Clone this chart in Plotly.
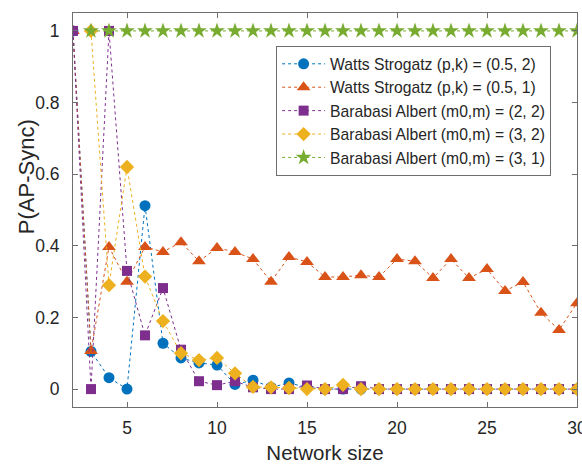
import plotly.graph_objects as go

# Network sizes
x_ws = list(range(2, 31))
x_ba22 = list(range(2, 31))
x_ba3 = list(range(3, 31))

ws_05_2 = [1.0, 0.105, 0.032, 0.0, 0.512, 0.128, 0.087, 0.073, 0.067, 0.013, 0.025,
           0.005, 0.017, 0.005, 0, 0, 0, 0, 0, 0, 0, 0, 0, 0, 0, 0, 0, 0, 0]
ws_05_1 = [1.0, 0.106, 0.397, 0.30, 0.397, 0.383, 0.41, 0.357, 0.394, 0.383, 0.363,
           0.30, 0.369, 0.355, 0.313, 0.313, 0.318, 0.313, 0.363, 0.357, 0.31, 0.363,
           0.31, 0.335, 0.274, 0.299, 0.213, 0.165, 0.24]
ba_2_2 = [1.0, 0.0, 1.0, 0.33, 0.15, 0.282, 0.11, 0.022, 0.011, 0.022, 0.005,
          0.0, 0.0, 0.01, 0, 0, 0.008, 0, 0, 0, 0, 0, 0, 0, 0, 0, 0, 0, 0]
ba_3_2 = [1.0, 0.29, 0.62, 0.314, 0.19, 0.10, 0.081, 0.087, 0.044, 0.006,
          0.005, 0.003, 0.0, 0, 0.012, 0, 0, 0, 0, 0, 0, 0, 0, 0, 0, 0, 0, 0]
ba_3_1 = [1.0] * 28

x_ticks = [5, 10, 15, 20, 25, 30]
y_ticks = [0, 0.2, 0.4, 0.6, 0.8, 1]
y_ticklabels = ["0", "0.2", "0.4", "0.6", "0.8", "1"]

names = ["Watts Strogatz (p,k) = (0.5, 2)",
         "Watts Strogatz (p,k) = (0.5, 1)",
         "Barabasi Albert (m0,m) = (2, 2)",
         "Barabasi Albert (m0,m) = (3, 2)",
         "Barabasi Albert (m0,m) = (3, 1)"]
colors = ["#0072BD", "#D95319", "#7E2F8E", "#EDB120", "#77AC30"]
symbols = ["circle", "triangle-up", "square", "diamond", "star"]
sizes = [11, 12, 10, 11, 12]
xs = [x_ws, x_ws, x_ba22, x_ba3, x_ba3]
ys = [ws_05_2, ws_05_1, ba_2_2, ba_3_2, ba_3_1]

font = "Liberation Sans, Arial, Helvetica, sans-serif"
fig = go.Figure()
for xv, yv, n, c, s, sz in zip(xs, ys, names, colors, symbols, sizes):
    fig.add_trace(go.Scatter(
        x=xv, y=yv, name=n, mode="lines+markers",
        line=dict(color=c, width=1, dash="dot"),
        marker=dict(color=c, symbol=s, size=sz, line=dict(width=0)),
    ))

axis_common = dict(
    showline=True, linecolor="#6e6e6e", linewidth=1, mirror="ticks",
    ticks="inside", ticklen=5, tickcolor="#6e6e6e",
    showgrid=False, zeroline=False, ticklabeloverflow="allow", automargin=False,
    tickfont=dict(family=font, size=17.5, color="#262626"),
)
fig.update_xaxes(range=[2, 30], tickvals=x_ticks,
                 ticklabelstandoff=5,
                 title=dict(text="Network size", font=dict(family=font, size=20.5, color="#262626"), standoff=8),
                 **axis_common)
fig.update_yaxes(range=[-0.05, 1.05], tickvals=y_ticks, ticktext=y_ticklabels,
                 ticklabelstandoff=9,
                 **axis_common)
fig.add_annotation(text="P(AP-Sync)", textangle=-90, showarrow=False,
                   xref="paper", yref="paper", x=-0.092, y=0.585,
                   xanchor="center", yanchor="middle",
                   font=dict(family=font, size=22, color="#262626"))
fig.update_layout(
    width=582, height=464,
    margin=dict(l=73, r=5, t=13, b=57),
    plot_bgcolor="white", paper_bgcolor="white",
    legend=dict(x=0.403, y=0.916, xanchor="left", yanchor="top",
                bgcolor="white", bordercolor="#6e6e6e", borderwidth=1,
                font=dict(family=font, size=15.7, color="#262626"),
                itemwidth=43, tracegroupgap=0),
)
fig.write_html("out.html")
